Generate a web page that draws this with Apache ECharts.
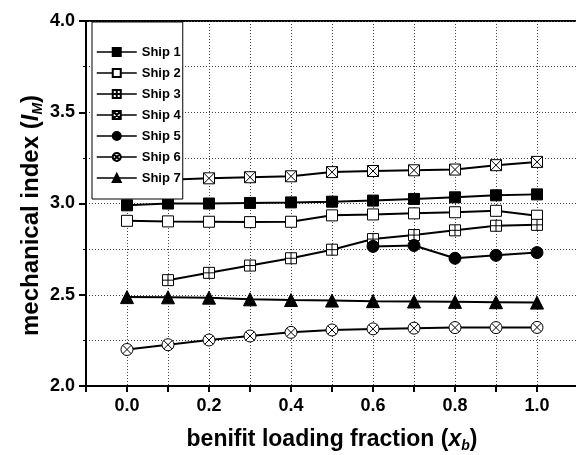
<!DOCTYPE html>
<html>
<head>
<meta charset="utf-8">
<script src="https://cdn.jsdelivr.net/npm/echarts@6/dist/echarts.min.js"></script>
<style>
html,body{margin:0;padding:0;background:#fff;}
#chart{width:576px;height:455px;}
</style>
</head>
<body>
<div id="chart"></div>
<script>
var xValues = [0.0, 0.1, 0.2, 0.3, 0.4, 0.5, 0.6, 0.7, 0.8, 0.9, 1.0];
var shipNames = ['Ship 1', 'Ship 2', 'Ship 3', 'Ship 4', 'Ship 5', 'Ship 6', 'Ship 7'];
var ship1 = [2.99, 3.0, 3.0, 3.003, 3.006, 3.01, 3.016, 3.025, 3.034, 3.045, 3.05];
var ship2 = [2.905, 2.902, 2.9, 2.898, 2.9, 2.935, 2.94, 2.946, 2.952, 2.96, 2.933];
var ship3 = [null, 2.58, 2.62, 2.66, 2.70, 2.747, 2.805, 2.827, 2.853, 2.878, 2.883];
var ship4 = [3.12, 3.13, 3.138, 3.144, 3.149, 3.172, 3.178, 3.182, 3.186, 3.21, 3.228];
var ship5 = [null, null, null, null, null, null, 2.765, 2.77, 2.70, 2.716, 2.731];
var ship6 = [2.20, 2.226, 2.252, 2.274, 2.294, 2.307, 2.313, 2.317, 2.32, 2.32, 2.321];
var ship7 = [2.487, 2.486, 2.484, 2.475, 2.471, 2.468, 2.465, 2.463, 2.461, 2.459, 2.457];

var shipValues = [ship1, ship2, ship3, ship4, ship5, ship6, ship7];

var SQ_PLUS = 'path://M0,0L10,0L10,10L0,10Z M5,0L5,10 M0,5L10,5';
var SQ_X = 'path://M0,0L10,0L10,10L0,10Z M0,0L10,10 M10,0L0,10';
var CIRC_X = 'path://M5,0A5,5,0,1,1,5,10A5,5,0,1,1,5,0Z M1.46,1.46L8.54,8.54 M8.54,1.46L1.46,8.54';

var markerStyles = [
  {symbol: 'rect', size: 11, fill: '#000'},
  {symbol: 'rect', size: 11, fill: '#fff'},
  {symbol: SQ_PLUS, size: 11, fill: '#fff'},
  {symbol: SQ_X, size: 11, fill: '#fff'},
  {symbol: 'circle', size: 12, fill: '#000'},
  {symbol: CIRC_X, size: 12, fill: '#fff'},
  {symbol: 'triangle', size: 13, fill: '#000'}
];

var series = shipNames.map(function (name, i) {
  var ms = markerStyles[i];
  return {
    name: name,
    type: 'line',
    data: xValues.map(function (x, j) { return [x, shipValues[i][j]]; }),
    symbol: ms.symbol,
    symbolSize: ms.size,
    showAllSymbol: true,
    connectNulls: false,
    lineStyle: {color: '#000', width: 2},
    itemStyle: {color: ms.fill, borderColor: '#000', borderWidth: 1},
    emphasis: {disabled: true},
    z: 2
  };
});

var FONT = '"Liberation Sans", Arial, sans-serif';
var GRID_LINE = {color: '#444', width: 1, type: [1, 2]};

var chart = echarts.init(document.getElementById('chart'), null, {renderer: 'canvas'});
chart.setOption({
  animation: false,
  backgroundColor: '#fff',
  grid: {
    left: 86, right: -2, top: 21, bottom: 69,
    outerBoundsMode: 'none',
    containLabel: false,
    show: true, borderColor: '#000', borderWidth: 2, backgroundColor: 'transparent'
  },
  legend: {
    orient: 'vertical',
    left: 92, top: 22,
    padding: [23, 2, 14, 4],
    itemWidth: 40, itemHeight: 10, itemGap: 7,
    backgroundColor: '#fff',
    borderColor: '#000', borderWidth: 1,
    lineStyle: {width: 1.5},
    textStyle: {fontFamily: FONT, fontWeight: 'bold', fontSize: 13, color: '#000', lineHeight: 14},
    data: shipNames
  },
  xAxis: {
    type: 'value',
    min: -0.1, max: 1.1, interval: 0.1,
    axisLine: {show: true, onZero: false, lineStyle: {color: '#000', width: 2}},
    axisTick: {show: true, inside: false, length: 6, lineStyle: {color: '#000', width: 2}},
    axisLabel: {
      fontFamily: FONT, fontWeight: 'bold', fontSize: 18, color: '#000', margin: 11,
      formatter: function (v) {
        var k = Math.round(v * 10);
        if (k < 0 || k > 10 || k % 2 !== 0) return '';
        return v.toFixed(1);
      }
    },
    splitLine: {show: true, lineStyle: GRID_LINE},
    name: '{t|benifit loading fraction (}{i|x}{s|b}{t|)}',
    nameLocation: 'middle',
    nameGap: 40,
    nameTextStyle: {
      rich: {
        t: {fontFamily: FONT, fontWeight: 'bold', fontSize: 23, color: '#000', lineHeight: 27},
        i: {fontFamily: FONT, fontWeight: 'bold', fontStyle: 'italic', fontSize: 23, color: '#000', lineHeight: 27},
        s: {fontFamily: FONT, fontWeight: 'bold', fontStyle: 'italic', fontSize: 14, color: '#000', lineHeight: 27, padding: [12, 0, 0, 0], verticalAlign: 'bottom'}
      }
    }
  },
  yAxis: {
    type: 'value',
    min: 2, max: 4, interval: 0.5,
    axisLine: {show: true, onZero: false, lineStyle: {color: '#000', width: 2}},
    axisTick: {show: true, inside: false, length: 7, lineStyle: {color: '#000', width: 2}},
    minorTick: {show: true, splitNumber: 2, length: 3, lineStyle: {color: '#000', width: 1}},
    minorSplitLine: {show: true, lineStyle: GRID_LINE},
    axisLabel: {
      fontFamily: FONT, fontWeight: 'bold', fontSize: 18, color: '#000', margin: 11,
      formatter: function (v) { return v.toFixed(1); }
    },
    splitLine: {show: true, lineStyle: GRID_LINE},
    name: '{t|mechanical index (}{i|I}{s|M}{e|)}',
    nameLocation: 'middle',
    nameGap: 41,
    nameMoveOverlap: false,
    nameTextStyle: {
      rich: {
        t: {fontFamily: FONT, fontWeight: 'bold', fontSize: 24, color: '#000', lineHeight: 28},
        i: {fontFamily: FONT, fontWeight: 'bold', fontStyle: 'italic', fontSize: 24, color: '#000', lineHeight: 28},
        s: {fontFamily: FONT, fontWeight: 'bold', fontStyle: 'italic', fontSize: 14, color: '#000', lineHeight: 28, padding: [13, 0, 0, 0], verticalAlign: 'bottom'},
        e: {fontFamily: FONT, fontWeight: 'bold', fontSize: 24, color: '#000', lineHeight: 28, padding: [0, 24, 0, 0]}
      }
    }
  },
  series: series
});
</script>
</body>
</html>
